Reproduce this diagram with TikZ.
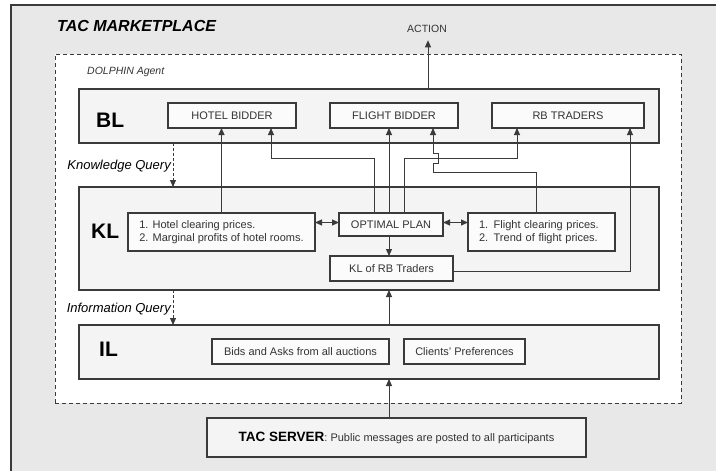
\documentclass[tikz,border=0pt]{standalone}
\usepackage{fontspec}
\setmainfont{Liberation Sans}
\usetikzlibrary{arrows.meta,calc}
\definecolor{bgcol}{HTML}{E8E8E8}
\definecolor{layercol}{HTML}{F4F4F4}
\definecolor{boxcol}{HTML}{FBFBFB}
\definecolor{linecol}{HTML}{3A3A3A}
\definecolor{txtcol}{HTML}{333333}
\begin{document}
\begin{tikzpicture}[x=1pt,y=-1pt,
 layerbox/.style={draw=linecol, fill=layercol, line width=1.1pt, anchor=north west, inner sep=0pt, outer sep=0pt},
 box/.style={draw=linecol, fill=boxcol, line width=1.1pt, anchor=north west, inner sep=0pt, outer sep=0pt, font=\fontsize{11}{13.5}\selectfont, text=txtcol, align=center},
 lbl/.style={font=\fontsize{21}{21}\selectfont\bfseries, inner sep=0pt, anchor=west},
 arr/.style={draw=linecol, line width=0.9pt, -{Triangle[length=7pt,width=6pt]}},
 darr/.style={draw=linecol, line width=0.9pt, {Triangle[length=7pt,width=6pt]}-{Triangle[length=7pt,width=6pt]}},
 qarr/.style={arr, dash pattern=on 3pt off 2pt},
 qlbl/.style={anchor=east, font=\fontsize{13}{13}\selectfont\itshape, inner sep=0pt}
]
\useasboundingbox (0,0) rectangle (716,471);
\fill[bgcol] (11,5) rectangle (730,480);
\draw[linecol, line width=1.2pt] (730,5) -- (11,5) -- (11,480);

\node[anchor=west, font=\fontsize{16}{16}\selectfont\bfseries\itshape, inner sep=0pt] (title) at (57,26) {TAC MARKETPLACE};
\node[inner sep=0pt, anchor=base, font=\fontsize{10.5}{10.5}\selectfont, text=txtcol] (action) at (427,32) {ACTION};

\node[draw=linecol, fill=white, line width=0.9pt, dash pattern=on 4pt off 3pt, anchor=north west, inner sep=0pt, outer sep=0pt, minimum width=626pt, minimum height=349pt] (agent) at (55,54) {};
\node[anchor=west, font=\fontsize{10.5}{10.5}\selectfont\itshape, text=txtcol, inner sep=0pt] (dolphin) at (87,72) {DOLPHIN Agent};

\node[layerbox, minimum width=580pt, minimum height=54pt] (bl) at (79,89) {};
\node[layerbox, minimum width=580pt, minimum height=103pt] (kl) at (79,187) {};
\node[layerbox, minimum width=580pt, minimum height=54pt] (il) at (79,325) {};

\node[lbl] (bllbl) at (96,120) {BL};
\node[lbl] (kllbl) at (91,231) {KL};
\node[lbl] (illbl) at (99,349) {IL};

\node[box, minimum width=128pt, minimum height=25pt] (hb) at (168,103) {HOTEL BIDDER};
\node[box, minimum width=128pt, minimum height=25pt] (fb) at (330,103) {FLIGHT BIDDER};
\node[box, minimum width=152pt, minimum height=25pt] (rb) at (492,103) {RB TRADERS};

\node[box, align=left, minimum width=187pt, minimum height=38pt] (hk) at (128,213) {1. Hotel clearing prices.\\2. Marginal profits of hotel rooms.};
\node[box, minimum width=104pt, minimum height=23pt] (op) at (339,213) {OPTIMAL PLAN};
\node[box, align=left, text width=125pt, inner xsep=11pt, minimum height=38pt] (fk) at (468,213) {1. Flight clearing prices.\\2. Trend of flight prices.};
\node[box, minimum width=123pt, minimum height=25pt] (kr) at (330,256) {KL of RB Traders};

\node[box, minimum width=177pt, minimum height=25pt] (bids) at (212,339) {Bids and Asks from all auctions};
\node[box, minimum width=121pt, minimum height=25pt] (cp) at (404,339) {Clients' Preferences};

\node[box, fill=layercol, minimum width=379pt, minimum height=39pt] (ts) at (207,418) {{\fontsize{13.5}{13.5}\selectfont\bfseries\color{black}TAC SERVER}: Public messages are posted to all participants};

\node[qlbl] (kq) at (171,166) {Knowledge Query};
\node[qlbl] (iq) at (171,309) {Information Query};

% queries
\draw[qarr] ([xshift=-196pt]bl.south) -- ([xshift=-196pt]kl.north);
\draw[qarr] ([xshift=-196pt]kl.south) -- ([xshift=-196pt]il.north);

% action
\draw[arr] ([xshift=59pt]bl.north) -- ([xshift=59pt,yshift=-8pt]bl.north |- action.south);

% KL -> BL
\draw[arr] (hk.north) -- (hk.north |- hb.south);
\draw[arr] ([xshift=-17pt]op.north) -- ++(0,-55) -| ([xshift=39pt]hb.south);
\draw[arr] ([xshift=-2pt]op.north) -- ([xshift=-2pt]op.north |- fb.south);
\draw[arr] ([xshift=13pt]op.north) -- ++(0,-55) -| ([xshift=-51pt]rb.south);
\draw[arr] ([xshift=-5.5pt]fk.north) -- ++(0,-41) -- ++(-103,0) -- ++(0,-9) -- ++(5,0) -- ++(0,-10) -- ++(-5,0) -- ([xshift=39pt]fb.south);
\draw[arr] ([yshift=-2.5pt]kr.east) -| ([xshift=62pt]rb.south);

% within KL
\draw[darr] ([yshift=2pt]op.west) -- ([yshift=2pt]op.west -| hk.east);
\draw[darr] ([yshift=2pt]op.east) -- ([yshift=2pt]op.east -| fk.west);
\draw[arr] ([xshift=-2pt]op.south) -- ([xshift=-2pt]op.south |- kr.north);

% IL -> KL, server -> IL
\draw[arr] ([xshift=20pt]il.north) -- ([xshift=20pt]kl.south);
\draw[arr] ([xshift=-7.5pt]ts.north) -- ([xshift=-7.5pt]ts.north |- il.south);
\end{tikzpicture}
\end{document}
